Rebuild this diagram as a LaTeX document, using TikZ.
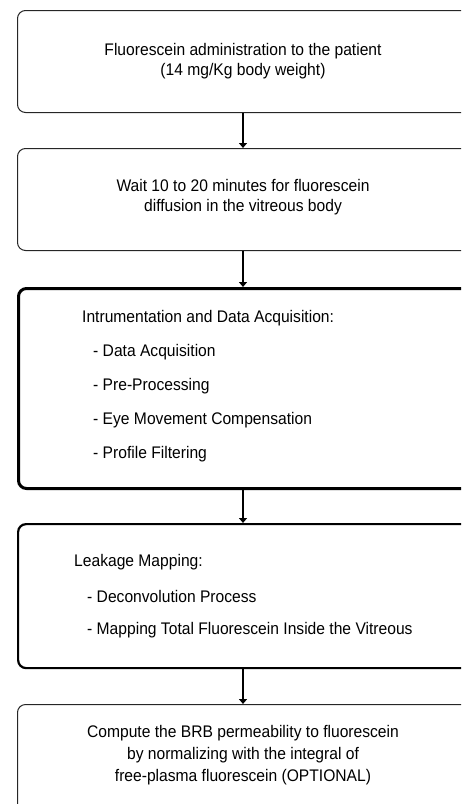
\documentclass[tikz,border=0pt]{standalone}
\usepackage{fontspec}
\setmainfont{Liberation Sans}[FakeStretch=0.93]
\usetikzlibrary{arrows.meta}
\begin{document}
\begin{tikzpicture}[x=1pt,y=-1pt,
  stepbox/.style={draw=black, rounded corners=8pt, minimum width=453pt, inner sep=0pt, anchor=north west},
  thinbox/.style={stepbox, line width=1pt, draw=black!85},
  boldbox/.style={stepbox, line width=3pt},
  midbox/.style={stepbox, line width=2.2pt},
  txt/.style={font=\fontsize{16.8}{20}\selectfont, inner sep=0pt},
  ltxt/.style={txt, anchor=west},
  flow/.style={line width=1.6pt, -{Triangle[width=8pt,length=5pt]}}]
\useasboundingbox (0,0) rectangle (461,804);
\begin{scope}
\clip (0,0) rectangle (461,804);
\node[thinbox, minimum height=102pt] (b1) at (17,10) {};
\node[thinbox, minimum height=102pt] (b2) at (17,148) {};
\node[boldbox, minimum height=200pt] (b3) at (17,287) {};
\node[midbox, minimum height=144pt] (b4) at (17,523) {};
\node[thinbox, minimum height=110pt] (b5) at (17,704) {};
\end{scope}

\node[txt, align=center] (t1) at (243,61) {Fluorescein administration to the patient\\(14 mg/Kg body weight)};
\node[txt, align=center] (t2) at (243,197) {Wait 10 to 20 minutes for fluorescein\\diffusion in the vitreous body};

\node[ltxt] (h3) at (82,318) {Intrumentation and Data Acquisition:};
\node[ltxt] (i31) at (93,352) {- Data Acquisition};
\node[ltxt] (i32) at (93,386) {- Pre-Processing};
\node[ltxt] (i33) at (93,420) {- Eye Movement Compensation};
\node[ltxt] (i34) at (93,454) {- Profile Filtering};

\node[ltxt] (h4) at (74,562) {Leakage Mapping:};
\node[ltxt] (i41) at (87,596) {- Deconvolution Process};
\node[ltxt] (i42) at (87,630) {- Mapping Total Fluorescein Inside the Vitreous};

\node[txt, align=center, font=\fontsize{16.8}{22}\selectfont] (t5) at (243,755) {Compute the BRB permeability to fluorescein\\by normalizing with the integral of\\free-plasma fluorescein (OPTIONAL)};

\draw[flow] (b1.south -| 243,0) -- (b2.north -| 243,0);
\draw[flow] (b2.south -| 243,0) -- (b3.north -| 243,0);
\draw[flow] (b3.south -| 243,0) -- (b4.north -| 243,0);
\draw[flow] (b4.south -| 243,0) -- (b5.north -| 243,0);
\end{tikzpicture}
\end{document}
